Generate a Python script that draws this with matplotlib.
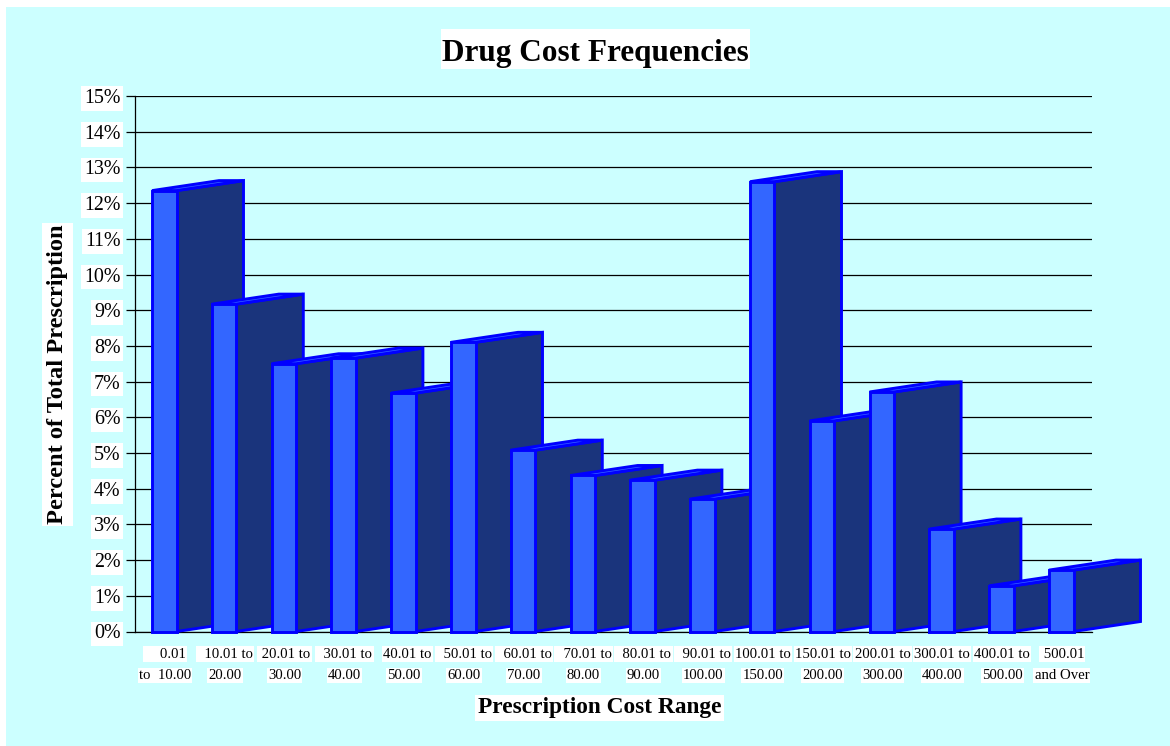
import matplotlib
matplotlib.use("Agg")
import matplotlib.pyplot as plt
from matplotlib.patches import Polygon, Rectangle
from matplotlib.ticker import FuncFormatter

FIG_W, FIG_H = 1170, 746
PANEL_COLOR = "#ccffff"
FRONT_COLOR = "#3366ff"
SIDE_COLOR = "#1a347c"
EDGE_COLOR = "#0000ff"

range_top = ["    0.01", "  10.01 to", " 20.01 to", "  30.01 to", "40.01 to", "  50.01 to", "  60.01 to", "  70.01 to",
             "  80.01 to", "  90.01 to", "100.01 to", "150.01 to", "200.01 to", "300.01 to", "400.01 to", " 500.01"]
range_bottom = ["to  10.00", "20.00", "30.00", "40.00", "50.00", "60.00", "70.00", "80.00",
                "90.00", "100.00", "150.00", "200.00", "300.00", "400.00", "500.00", "and Over"]
percent = [12.35, 9.17, 7.5, 7.66, 6.68, 8.1, 5.08, 4.37,
           4.24, 3.71, 12.6, 5.9, 6.71, 2.87, 1.28, 1.72]
y_ticks = list(range(0, 16))

plt.rcParams["font.family"] = ["Liberation Serif", "DejaVu Serif"]


def white_rect(left, top, right, bottom):
    # rectangle given in pixels from the top left of the figure
    fig.patches.append(Rectangle((left / FIG_W, 1 - bottom / FIG_H), (right - left) / FIG_W, (bottom - top) / FIG_H,
                                 transform=fig.transFigure, facecolor="white", edgecolor="none", zorder=-0.5))


fig = plt.figure(figsize=(FIG_W / 100, FIG_H / 100), dpi=100, facecolor="white")
fig.patches.append(Rectangle((6 / FIG_W, 0), 1164 / FIG_W, 739 / FIG_H, transform=fig.transFigure,
                             facecolor=PANEL_COLOR, edgecolor="none", zorder=-1))

ax = fig.add_axes([134.5 / FIG_W, (FIG_H - 631.5) / FIG_H, 957.5 / FIG_W, 535.5 / FIG_H])
ax.patch.set_alpha(0)
pitch = 59.8
px_per_pct = 535.5 / 15
ax.set_xlim(-17.5 / pitch, (957.5 - 17.5) / pitch)
ax.set_ylim(0, 15)
ax.set_yticks(y_ticks)
ax.yaxis.set_major_formatter(FuncFormatter(lambda v, _: f"{v:.0f}%"))
ax.grid(axis="y", color="black", lw=0.9)
ax.set_axisbelow(True)
ax.set_xticks([])
for name in ["top", "right"]:
    ax.spines[name].set_visible(False)
ax.spines["left"].set_linewidth(0.9)
ax.spines["bottom"].set_linewidth(0.9)
ax.tick_params(axis="y", length=6.5, width=0.9, pad=3.5, labelsize=14.4)
for lbl in ax.get_yticklabels():
    lbl.set_bbox(dict(facecolor="white", edgecolor="none", pad=2))

# oblique extrusion of each bar, in data units
bar_w = 24.5 / pitch
depth_x = 67 / pitch
depth_y = 10 / px_per_pct


def draw_bar(i, value):
    x0, x1 = i, i + bar_w
    side = [(x1, 0), (x1 + depth_x, depth_y), (x1 + depth_x, value + depth_y), (x1, value)]
    top = [(x0, value), (x0 + depth_x, value + depth_y), (x1 + depth_x, value + depth_y), (x1, value)]
    front = [(x0, 0), (x1, 0), (x1, value), (x0, value)]
    for pts, color in [(side, SIDE_COLOR), (top, FRONT_COLOR), (front, FRONT_COLOR)]:
        ax.add_patch(Polygon(pts, closed=True, facecolor=color, edgecolor=EDGE_COLOR,
                             lw=2.1, joinstyle="miter", clip_on=False, zorder=3 + i * 0.01))


for i, value in enumerate(percent):
    draw_bar(i, value)

white_box = dict(facecolor="white", edgecolor="none", pad=0.8)
top_nudge = {4: 3.0}
for i, (top_text, bottom_text) in enumerate(zip(range_top, range_bottom)):
    cx = i + bar_w / 2
    ax.annotate(top_text, (cx, 0), xytext=(top_nudge.get(i, 0.5), -18.8), textcoords="offset points",
                ha="center", va="baseline", fontsize=10.6, bbox=white_box, annotation_clip=False)
    ax.annotate(bottom_text, (cx, 0), xytext=(0.5, -34), textcoords="offset points",
                ha="center", va="baseline", fontsize=10.6, bbox=white_box, annotation_clip=False)

white_rect(441, 29, 750, 69)
white_rect(42, 223, 73, 526)
fig.text(595.5 / FIG_W, 1 - 54 / FIG_H, "Drug Cost Frequencies", ha="center", va="center",
         fontsize=22.5, fontweight="bold")
fig.text(599.5 / FIG_W, 1 - 708 / FIG_H, "Prescription Cost Range", ha="center", va="center",
         fontsize=16.8, fontweight="bold", bbox=dict(facecolor="white", edgecolor="none", pad=2))
fig.text(58 / FIG_W, 1 - 374.5 / FIG_H, "Percent of Total Prescription", ha="center", va="center",
         rotation=90, fontsize=17.6, fontweight="bold")

fig.savefig("out.png", dpi=100)
